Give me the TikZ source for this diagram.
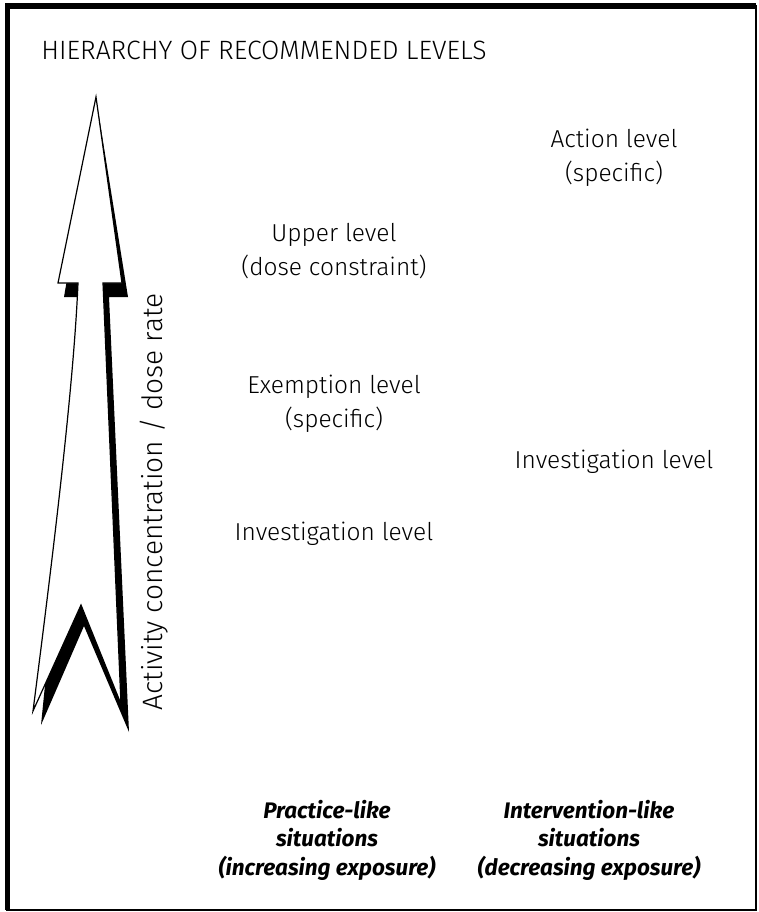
\documentclass[tikz,border=0pt]{standalone}
\usepackage{fontspec}
\setmainfont{Fira Sans}[UprightFont=* Light, BoldItalicFont=* Bold Italic]
\usepackage{tikz}
\usetikzlibrary{positioning}

\begin{document}
\begin{tikzpicture}[
        x=1pt, y=-1pt,
        heading/.style = {font=\fontsize{26.5}{30}\selectfont, anchor=base},
        lvl/.style = {align=center, anchor=base, font=\fontsize{24.5}{34}\selectfont},
        sit/.style = {align=center, anchor=base, font=\fontsize{22.5}{28.5}\selectfont\bfseries\itshape},
        axis/.style = {rotate=90, anchor=base, font=\fontsize{28}{30}\selectfont}
    ]
    \useasboundingbox (0,0) rectangle (758,912);

    % frame, heavy on top and left
    \draw [line width=1.2pt] (7,6) rectangle (756,910);
    \fill (5,3) rectangle (756,9);
    \fill (5,3) rectangle (10,910);

    \node [heading] (title) at (264,60) {HIERARCHY OF RECOMMENDED LEVELS};

    % shadow of the big arrow
    \fill (97,104) -- (128,297) -- (109,297) -- (129,732) -- (84,626)
        -- (41,725) -- (84,297) -- (64,297) -- cycle;
    % the big arrow
    \draw [fill=white, line width=1.2pt, line join=miter]
        (96,97) -- (122,283) -- (103,283) -- (121,704) -- (81,605)
        -- (33,711) .. controls (55,540) and (74,380) .. (78,283) -- (58,283) -- cycle;

    \node [axis] (axislabel) at (162,502) {Activity concentration / dose rate};

    \node [lvl] (upper) at (334,275) {Upper level\\(dose constraint)};
    \node [lvl] (exempt) at (334,427) {Exemption level\\(specific)};
    \node [lvl] (invpractice) at (334,540) {Investigation level};

    \node [lvl] (action) at (614,182) {Action level\\(specific)};
    \node [lvl] (invinterv) at (614,468) {Investigation level};

    \node [sit] (practice) at (327,875) {Practice-like\\situations\\(increasing exposure)};
    \node [sit] (interv) at (589,875) {Intervention-like\\situations\\(decreasing exposure)};

\end{tikzpicture}
\end{document}
